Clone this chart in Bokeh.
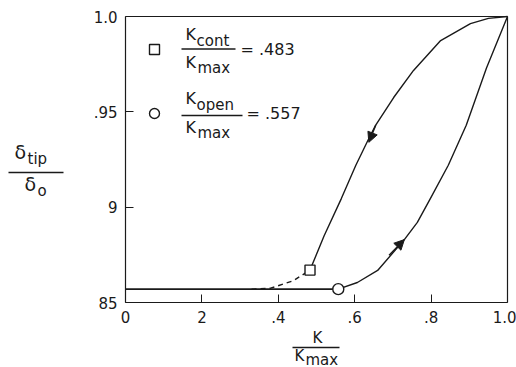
from bokeh.plotting import figure
from bokeh.models import FixedTicker, Label, Arrow, NormalHead, LinearAxis
from bokeh.embed import file_html
from bokeh.resources import INLINE

# ---- data ----
base_k = [0.0, 0.557]
base_v = [0.857, 0.857]
dash_k = [0.33, 0.38, 0.44, 0.483]
dash_v = [0.857, 0.8575, 0.8615, 0.867]
unload_k = [0.483, 0.52, 0.565, 0.603, 0.637, 0.655, 0.702, 0.754, 0.825, 0.903, 0.95, 1.0]
unload_v = [0.867, 0.885, 0.9045, 0.922, 0.936, 0.943, 0.9575, 0.9717, 0.9874, 0.9963, 0.9990, 1.0]
load_k = [0.557, 0.607, 0.66, 0.73, 0.764, 0.798, 0.845, 0.892, 0.945, 1.0]
load_v = [0.857, 0.8605, 0.8668, 0.883, 0.892, 0.9045, 0.922, 0.943, 0.973, 1.0]
k_cont = 0.483
k_open = 0.557
x_lo, x_hi = 0.0, 1.0
y_lo, y_hi = 0.85, 1.0
x_ticks = [0, 0.2, 0.4, 0.6, 0.8, 1.0]
x_tick_labels = ["0", "2", ".4", ".6", ".8", "1.0"]
y_ticks = [0.85, 0.9, 0.95, 1.0]
y_tick_labels = ["85", "9", ".95", "1.0"]
legend_cont = "= .483"
legend_open = "= .557"

FONT = "DejaVu Sans"
INK = "#1a1a1a"
W, H = 516, 367
# plot box in page pixels
BL, BR, BT, BB = 125, 507, 16, 302
sx = (BR - BL) / (x_hi - x_lo)
sy = (BB - BT) / (y_hi - y_lo)

p = figure(width=W, height=H,
           x_range=(x_lo - BL / sx, x_hi + (W - BR) / sx),
           y_range=(y_lo - (H - BB) / sy, y_hi + BT / sy),
           output_backend="svg", toolbar_location=None,
           min_border=0, min_border_left=0, min_border_right=0, min_border_top=0, min_border_bottom=0)
p.xgrid.visible = False
p.ygrid.visible = False
p.outline_line_color = None
p.background_fill_color = "white"
p.border_fill_color = "white"

p.xaxis.fixed_location = y_lo
p.yaxis.fixed_location = x_lo
p.xaxis.bounds = (x_lo, x_hi)
p.yaxis.bounds = (y_lo, y_hi)
p.xaxis.ticker = FixedTicker(ticks=x_ticks)
p.yaxis.ticker = FixedTicker(ticks=y_ticks)
p.xaxis.major_label_overrides = {t: s for t, s in zip(x_ticks, x_tick_labels)}
p.yaxis.major_label_overrides = {t: s for t, s in zip(y_ticks, y_tick_labels)}
for ax in (p.xaxis, p.yaxis):
    ax.major_tick_in = 8
    ax.major_tick_out = 0
    ax.minor_tick_line_color = None
    ax.axis_line_color = INK
    ax.axis_line_width = 1.2
    ax.major_tick_line_color = INK
    ax.major_label_text_font = FONT
    ax.major_label_text_font_size = "15px"
    ax.major_label_text_color = INK
p.xaxis.major_label_standoff = 8
p.yaxis.major_label_standoff = 8

# closing box: top and right axes without ticks
top_ax = LinearAxis(fixed_location=y_hi, bounds=(x_lo, x_hi), major_tick_line_color=None,
                    minor_tick_line_color=None, major_label_text_font_size="0px",
                    axis_line_color=INK, axis_line_width=1.2, ticker=FixedTicker(ticks=[]))
right_ax = LinearAxis(fixed_location=x_hi, bounds=(y_lo, y_hi), major_tick_line_color=None,
                      minor_tick_line_color=None, major_label_text_font_size="0px",
                      axis_line_color=INK, axis_line_width=1.2, ticker=FixedTicker(ticks=[]))
p.add_layout(top_ax, "above")
p.add_layout(right_ax, "right")

# ---- curves ----
p.line(base_k, base_v, line_color=INK, line_width=1.7)
p.line(dash_k, dash_v, line_color=INK, line_width=1.4, line_dash="5 4")
p.line(unload_k, unload_v, line_color=INK, line_width=1.4)
p.line(load_k, load_v, line_color=INK, line_width=1.4)

p.scatter([k_cont], [dash_v[-1]], marker="square", size=10, fill_color="white",
          line_color=INK, line_width=1.4)
p.scatter([k_open], [base_v[-1]], marker="circle", size=11, fill_color="white",
          line_color=INK, line_width=1.4)

# direction arrows
p.add_layout(Arrow(x_start=unload_k[5], y_start=unload_v[5], x_end=unload_k[4], y_end=unload_v[4] - 0.002,
                   line_color=INK, line_width=1.4,
                   end=NormalHead(size=10, fill_color=INK, line_color=INK)))
p.add_layout(Arrow(x_start=load_k[2] + 0.03, y_start=load_v[2] + 0.008, x_end=load_k[3], y_end=load_v[3],
                   line_color=INK, line_width=1.4,
                   end=NormalHead(size=10, fill_color=INK, line_color=INK)))


# ---- text helpers (positions in reference pixels) ----
def dx(px):
    return x_lo + (px - BL) / sx


def dy(py):
    return y_lo + (BB - py) / sy


def txt(s, px, py, size, align="left"):
    p.add_layout(Label(x=dx(px), y=dy(py), text=s, text_font=FONT,
                       text_font_size=f"{size}px", text_color=INK,
                       text_align=align, text_baseline="middle"))


def hline(px0, px1, py):
    p.add_layout(Arrow(x_start=dx(px0), y_start=dy(py), x_end=dx(px1), y_end=dy(py),
                       end=None, start=None, line_color=INK, line_width=1.3))


# legend
p.scatter([dx(154)], [dy(49)], marker="square", size=10, fill_color="white", line_color=INK, line_width=1.4)
txt("K", 185, 34, 16)
txt("cont", 196, 40, 15)
hline(181, 235, 48.5)
txt("K", 185, 62, 16)
txt("max", 197, 67, 15)
txt(legend_cont, 240, 49, 16)

p.scatter([dx(154)], [dy(113)], marker="circle", size=10, fill_color="white", line_color=INK, line_width=1.4)
txt("K", 185, 98, 16)
txt("open", 196, 104, 15)
hline(181, 242, 115)
txt("K", 185, 127, 16)
txt("max", 197, 132, 15)
txt(legend_open, 246, 113, 16)

# y-axis label
txt("δ", 14, 151, 19)
txt("tip", 27, 158, 15)
hline(8, 63, 172)
txt("δ", 24, 183, 19)
txt("o", 37, 190, 15)

# x-axis label
txt("K", 317, 337, 15, align="center")
hline(292, 339, 347)
txt("K", 294, 355, 15)
txt("max", 305, 359, 15)

open("out.html", "w").write(file_html(p, INLINE))
